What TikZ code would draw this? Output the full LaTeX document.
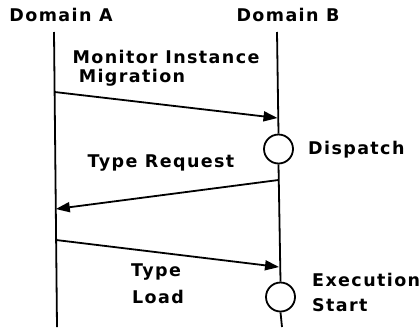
\documentclass[tikz,border=0pt]{standalone}
\usepackage{fontspec}
\setmainfont{DejaVu Sans}[LetterSpace=8]
\usetikzlibrary{arrows.meta}
\begin{document}
\begin{tikzpicture}[x=1pt,y=-1pt,
  lbl/.style={font=\fontsize{17.5}{20}\selectfont\bfseries, inner sep=0pt, align=center},
  life/.style={line width=1.8pt},
  msg/.style={line width=1.8pt, -{Triangle[length=14pt,width=10pt]}},
  evt/.style={circle, draw, line width=1.8pt, minimum size=29pt, inner sep=0pt}]
\useasboundingbox (0,0) rectangle (419,327);
% headers
\node[lbl] (hA) at (61,15) {Domain A};
\node[lbl] (hB) at (288,15) {Domain B};
% lifeline coordinates
\coordinate (a0) at (54,32);
\coordinate (a1) at (54.6,92);
\coordinate (a2) at (55.8,209);
\coordinate (a3) at (56.1,240);
\coordinate (a4) at (57,327);
\coordinate (b0) at (277,32);
\coordinate (b1) at (277.5,118);
\coordinate (b2) at (278.5,180);
\coordinate (b3) at (279,267);
\coordinate (b4) at (282,327);
% events
\node[evt] (disp) at (278.5,149) {};
\node[evt] (exec) at (280.5,297) {};
% lifelines
\draw[life] (a0) -- (a4);
\draw[life] (b0) -- (disp.north);
\draw[life] (disp.south) -- (exec.north);
\draw[life] (exec.south) -- (b4);
% messages
\draw[msg] (a1) -- (b1);
\draw[msg] (b2) -- (a2);
\draw[msg] (a3) -- (b3);
% labels
\node[lbl] (m1a) at (166,57) {Monitor Instance};
\node[lbl] (m1b) at (132,78) {Migration};
\node[lbl] (m2) at (161,163) {Type Request};
\node[lbl] (m3a) at (156,272) {Type};
\node[lbl] (m3b) at (158,297) {Load};
\node[lbl, anchor=west] (dl) at (308,150) {Dispatch};
\node[lbl, anchor=west] (el1) at (312,280) {Execution};
\node[lbl, anchor=west] (el2) at (312,305) {Start};
\end{tikzpicture}
\end{document}
